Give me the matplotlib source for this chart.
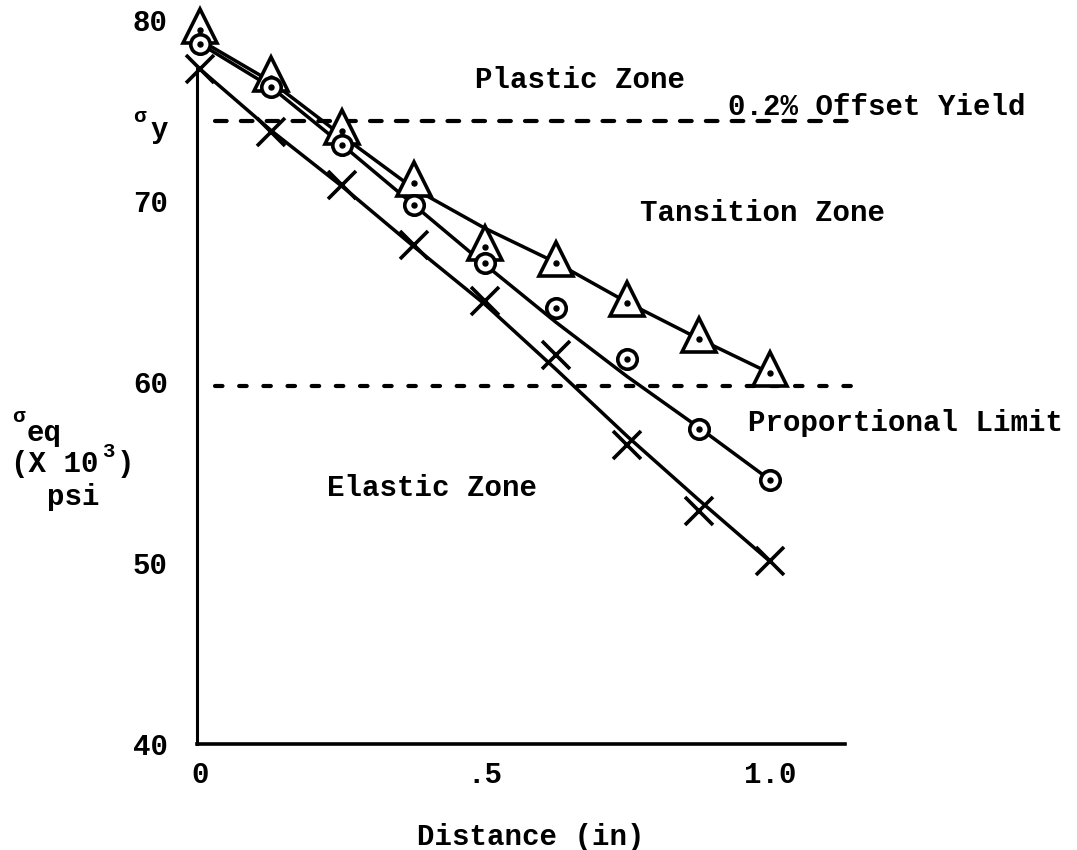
import matplotlib

matplotlib.use("Agg")

import matplotlib.pyplot as plt
import matplotlib.transforms as mtransforms


# distance from the notch root (in)
distance = [0.0, 0.125, 0.25, 0.375, 0.5, 0.625, 0.75, 0.875, 1.0]

# plotted points, sigma_eq (x 10^3 psi)
sigma_tri = [79.7, 77.0, 74.1, 71.2, 67.7, 66.8, 64.6, 62.6, 60.7]
sigma_circ = [78.7, 76.3, 73.1, 69.8, 66.6, 64.1, 61.3, 57.4, 54.6]
sigma_x = [77.3, 73.8, 70.9, 67.6, 64.5, 61.5, 56.5, 52.9, 50.1]

# hand-faired curves drawn through each set of points
curve_tri = [78.9, 76.6, 73.6, 70.7, 68.5, 66.6, 64.4, 62.4, 60.5]
curve_circ = [78.7, 76.3, 73.1, 69.8, 66.5, 63.3, 60.3, 57.5, 54.6]
curve_x = [77.3, 73.9, 70.8, 67.5, 64.3, 60.7, 57.0, 53.5, 50.1]

yield_stress = 74.4
prop_limit = 59.8

y_ticks = [40, 50, 60, 70, 80]
x_ticks = [0.0, 0.5, 1.0]
x_tick_labels = ["0", ".5", "1.0"]

W, H = 1077, 850
FS = 21

plt.rcParams["font.family"] = ["Liberation Mono", "DejaVu Sans Mono"]
plt.rcParams["font.weight"] = "bold"
plt.rcParams["font.size"] = FS


def fpx(x, y):
    # pixel position (from top-left) -> figure fraction
    return x / W, 1 - y / H


fig = plt.figure(figsize=(W / 100, H / 100), dpi=100)
ax = fig.add_axes([197 / W, 106 / H, 648 / W, 742 / H])
ax.set_xlim(-0.005, 1.132)
ax.set_ylim(40, 81)

for sp in ["top", "right"]:
    ax.spines[sp].set_visible(False)
ax.spines["left"].set_linewidth(2.2)
ax.spines["bottom"].set_linewidth(2.6)
ax.spines["left"].set_bounds(40, 77.3)

ax.set_xticks(x_ticks)
ax.set_xticklabels(x_tick_labels)
ax.set_yticks(y_ticks)
ax.tick_params(axis="both", length=0, labelsize=FS)
ax.tick_params(axis="y", pad=21)
ax.tick_params(axis="x", pad=12)

# yield and proportional-limit reference lines
ax.plot([0.026, 1.153], [yield_stress] * 2, color="black", lw=3.0,
        ls=(0, (2.8, 3.4)), dash_capstyle="round", clip_on=False, zorder=1)
ax.plot([0.026, 1.153], [prop_limit] * 2, color="black", lw=3.0,
        ls=(0, (1.8, 4.0)), dash_capstyle="round", clip_on=False, zorder=1)

# curves
for curve in (curve_tri, curve_circ, curve_x):
    ax.plot(distance, curve, color="black", lw=2.5, zorder=2, clip_on=False)

# markers
ax.plot(distance, sigma_tri, ls="none", marker="^", ms=24, mfc="white",
        mec="black", mew=2.6, zorder=3, clip_on=False)
dot_tr = mtransforms.offset_copy(ax.transData, fig=fig, x=0, y=-4, units="dots")
ax.plot(distance, sigma_tri, ls="none", marker="o", ms=3.6, color="black",
        transform=dot_tr, zorder=4, clip_on=False)
ax.plot(distance, sigma_circ, ls="none", marker="o", ms=14, mfc="white",
        mec="black", mew=2.6, zorder=5, clip_on=False)
ax.plot(distance, sigma_circ, ls="none", marker="o", ms=3.6, color="black",
        zorder=6, clip_on=False)
ax.plot(distance, sigma_x, ls="none", marker="x", ms=20, color="black",
        mew=2.6, zorder=7, clip_on=False)

# zone labels
txt = dict(fontsize=FS, fontweight="bold", va="center", ha="left")
fig.text(*fpx(475, 80), "Plastic Zone", **txt)
fig.text(*fpx(728, 107), "0.2% Offset Yield", **txt)
fig.text(*fpx(640, 213), "Tansition Zone", **txt)
fig.text(*fpx(748, 423), "Proportional Limit", **txt)
fig.text(*fpx(327, 488), "Elastic Zone", **txt)

# sigma_y marker on the stress axis
fig.text(*fpx(133, 117), "\u03c3", fontsize=15, ha="left", va="center")
fig.text(*fpx(150, 130), "y", **txt)

# stress axis label
fig.text(*fpx(12, 416), "\u03c3", fontsize=15, ha="left", va="center")
fig.text(*fpx(27, 433), "eq", **txt)
fig.text(*fpx(11, 464), "(X 10", **txt)
fig.text(*fpx(102, 451), "3", fontsize=15, fontweight="bold", ha="left", va="center")
fig.text(*fpx(117, 464), ")", **txt)
fig.text(*fpx(47, 497), "psi", **txt)

fig.text(*fpx(531, 837), "Distance (in)", fontsize=FS, fontweight="bold",
         ha="center", va="center")

fig.savefig("out.png", dpi=100)
